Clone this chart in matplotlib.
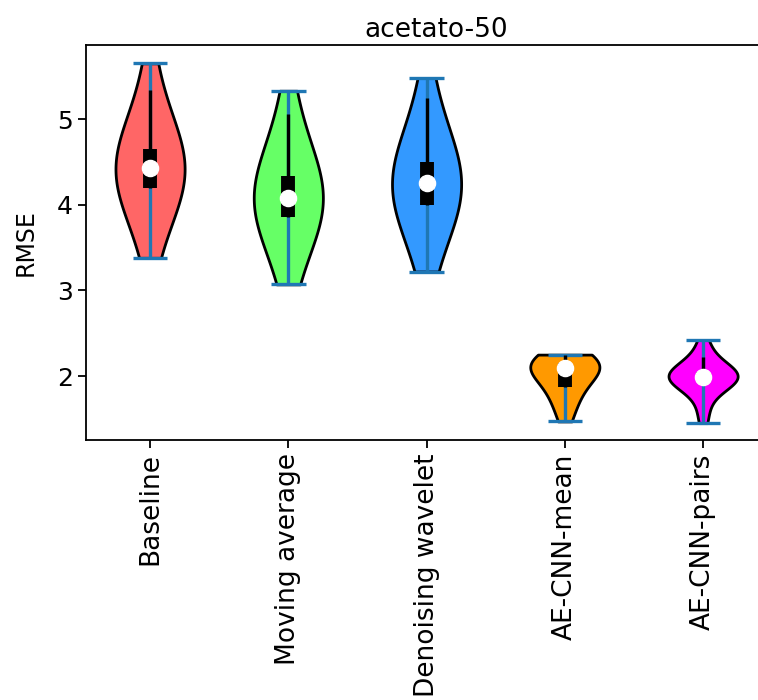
import numpy as np
import matplotlib
matplotlib.use("Agg")
import matplotlib.pyplot as plt

categories = ["Baseline", "Moving average", "Denoising wavelet", "AE-CNN-mean", "AE-CNN-pairs"]
colors = ["#FF6666", "#66FF66", "#3399FF", "#FF9900", "#FF00FF"]

baseline = [3.38, 3.70, 3.90, 4.00, 4.10, 4.19, 4.25, 4.30, 4.35, 4.40, 4.43,
            4.47, 4.52, 4.56, 4.60, 4.65, 4.75, 4.90, 5.05, 5.30, 5.65]
moving_average = [3.07, 3.35, 3.55, 3.70, 3.80, 3.86, 3.92, 3.97, 4.01, 4.05, 4.08,
                  4.12, 4.17, 4.22, 4.28, 4.34, 4.45, 4.60, 4.80, 5.00, 5.33]
denoising_wavelet = [3.22, 3.50, 3.70, 3.82, 3.92, 4.00, 4.06, 4.12, 4.17, 4.21, 4.25,
                     4.30, 4.35, 4.40, 4.45, 4.50, 4.60, 4.75, 4.95, 5.15, 5.48]
ae_cnn_mean = [1.47, 1.58, 1.68, 1.76, 1.82, 1.87, 1.92, 1.97, 2.01, 2.05, 2.09,
               2.10, 2.12, 2.13, 2.14, 2.15, 2.18, 2.20, 2.22, 2.24, 2.25]
ae_cnn_pairs = [1.45, 1.60, 1.75, 1.85, 1.90, 1.937, 1.95, 1.97, 1.98, 1.99, 1.99,
                2.00, 2.01, 2.02, 2.035, 2.05, 2.08, 2.12, 2.20, 2.30, 2.42]
bandwidths = [1.0, 1.0, 1.0, 0.75, 0.7]

data = [baseline, moving_average, denoising_wavelet, ae_cnn_mean, ae_cnn_pairs]

plt.rcParams['font.family'] = ['DejaVu Sans']
fig = plt.figure(figsize=(7.58, 7.0), dpi=100)
ax = fig.add_axes([0.1135, 0.3714, 0.9235, 0.5643])
ax.spines['right'].set_visible(False)

positions = np.arange(1, len(categories) + 1)
for pos, d, c, bw in zip(positions, data, colors, bandwidths):
    parts = ax.violinplot([d], positions=[pos], showmeans=False, showmedians=False,
                          showextrema=True, widths=0.5, bw_method=bw)
    for body in parts['bodies']:
        body.set_facecolor(c)
        body.set_edgecolor('black')
        body.set_linewidth(2.0)
        body.set_alpha(1)
    for key in ('cbars', 'cmins', 'cmaxes'):
        parts[key].set_linewidth(2.4)
        parts[key].set_color('#1f77b4')

q1s, meds, q3s = [], [], []
whis_hi = []
for d in data:
    s = np.sort(d)
    q1, m, q3 = np.percentile(s, [25, 50, 75])
    q1s.append(q1); meds.append(m); q3s.append(q3)
    whis_hi.append(np.clip(q3 + 1.5 * (q3 - q1), q3, s[-1]))

ax.vlines(positions, q1s, whis_hi, color='k', linestyle='-', lw=2.4, zorder=3)
ax.vlines(positions, q1s, q3s, color='k', linestyle='-', lw=10, zorder=3)
ax.scatter(positions, meds, marker='o', color='white', s=135, zorder=4)

ax.set_xlim(0.537, 5.6)
ax.set_ylim(1.253, 5.864)
ax.set_yticks([2, 3, 4, 5])
ax.set_xticks(positions)
ax.set_xticklabels(categories, rotation=90, fontsize=19)
ax.tick_params(axis='y', labelsize=18)
ax.tick_params(length=6, width=1.3)
for sp in ax.spines.values():
    sp.set_linewidth(1.3)
ax.set_ylabel("RMSE", fontsize=17, labelpad=14)
ax.set_title("acetato-50", fontsize=19)

fig.savefig("out.png", dpi=100)
